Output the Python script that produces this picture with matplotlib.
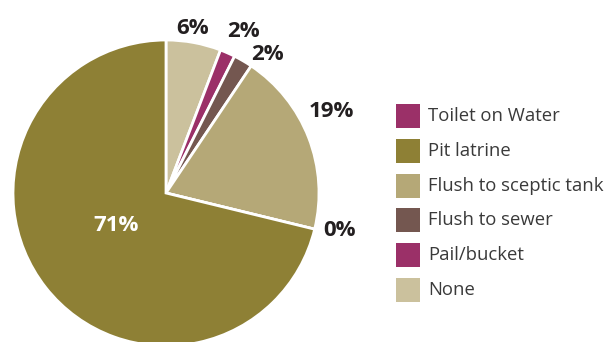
import numpy as np
import matplotlib.pyplot as plt
from matplotlib.patches import Rectangle

plt.rcParams['font.family'] = ['Open Sans', 'DejaVu Sans']

# Data, clockwise from 12 o'clock
categories = ['None', 'Pail/bucket', 'Flush to sewer', 'Flush to sceptic tank',
              'Toilet on Water', 'Pit latrine']
shares = [5.8, 1.6, 2.0, 19.4, 0.0, 71.2]
colors = ['#CBC19D', '#9B3068', '#745750', '#B5A877', '#9B3068', '#8E8035']
legend_order = ['Toilet on Water', 'Pit latrine', 'Flush to sceptic tank',
                'Flush to sewer', 'Pail/bucket', 'None']

W, H = 610, 342
fig = plt.figure(figsize=(W / 100, H / 100), dpi=100)
ax = fig.add_axes([0, 0, 1, 1])

cx, cy, R = 166, H - 193, 153
wedges, _ = ax.pie(shares, colors=colors, startangle=90, counterclock=False,
                   center=(cx, cy), radius=R,
                   wedgeprops=dict(edgecolor='white', linewidth=2))
ax.set_xlim(0, W)
ax.set_ylim(0, H)
ax.set_aspect('auto')
ax.axis('off')

# label offsets from the rim (pixels)
offsets = [(-1, 14), (16, 21), (24, 6), (23, 26), (25, -1), (70, 62)]
for w, val, (dx, dy) in zip(wedges, shares, offsets):
    mid = np.deg2rad((w.theta1 + w.theta2) / 2)
    px, py = cx + R * np.cos(mid), cy + R * np.sin(mid)
    col = 'white' if val > 50 else '#231F20'
    ax.annotate(f'{val:.0f}%', xy=(px, py), xytext=(dx, dy),
                textcoords='offset pixels', ha='center', va='center',
                fontsize=16, fontweight='bold', color=col)

# legend
lut = dict(zip(categories, colors))
y0, step, sq = 116, 34.8, 24
for i, name in enumerate(legend_order):
    yc = H - (y0 + i * step)
    ax.add_patch(Rectangle((396, yc - sq / 2), sq, sq, color=lut[name], lw=0))
    ax.text(428, yc, name, ha='left', va='center', fontsize=13.3, color='#3A3A3A')

fig.savefig('out.png', dpi=100)
